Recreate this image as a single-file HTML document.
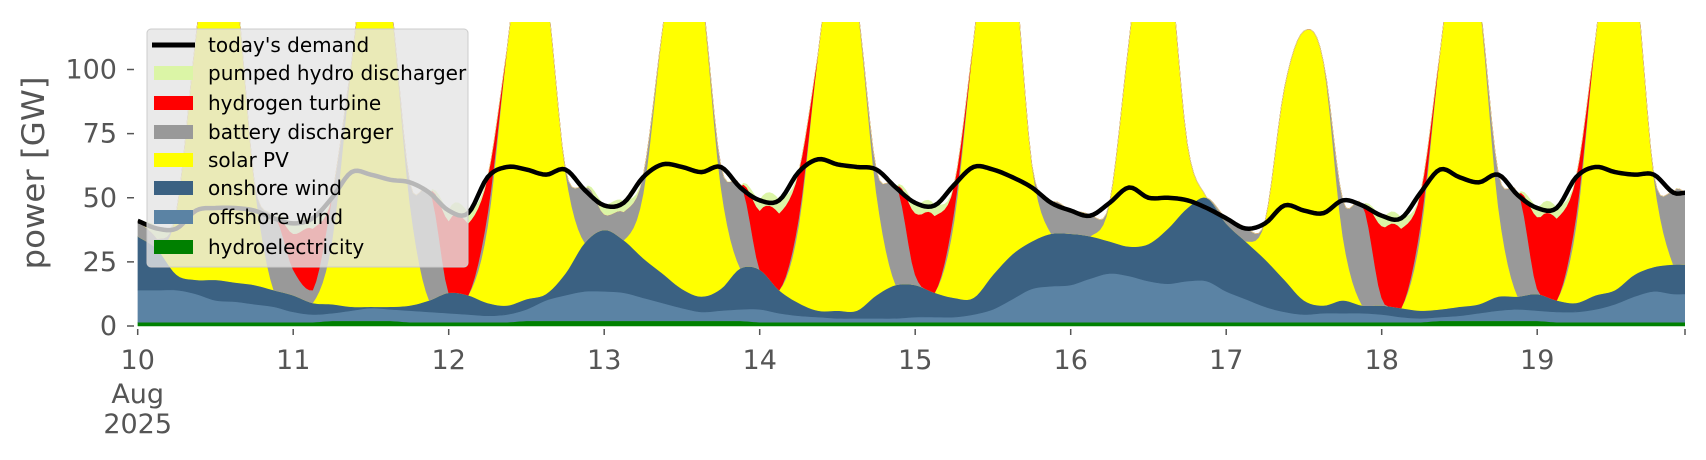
<!DOCTYPE html>
<html><head><meta charset="utf-8"><style>
html,body{margin:0;padding:0;background:#fff;}
svg{display:block;font-family:"DejaVu Sans","Liberation Sans",sans-serif;}
</style></head><body>
<svg id="chart" width="1706" height="460" viewBox="0 0 1706 460" xmlns="http://www.w3.org/2000/svg">
<defs><clipPath id="plotclip"><rect x="137.7" y="22" width="1547.3" height="305"/></clipPath></defs>
<g id="series" clip-path="url(#plotclip)"></g>
<g id="axes"></g>
<g id="legend"></g>
</svg>
<script>
// ---- data (3-hourly, 10–19 Aug 2025; 8 points per day: 00,03,...,21h) ----
const dayLabels = ["10","11","12","13","14","15","16","17","18","19"];
const yTicks = [0,25,50,75,100];
const hydro = [1.5,1.5,1.5,1.5,1.5,1.5,1.5,1.5, 1.5,1.5,2,2,2,2,1.5,1.5, 1.5,1.5,1.5,1.5,2,2,2,2, 2,2,2,2,2,2,2,2, 1.5,1.5,1.5,1.5,1.5,1.5,1.5,1.5, 1.5,1.5,1.5,1.5,1.5,1.5,1.5,1.5, 1.5,1.5,1.5,1.5,1.5,1.5,1.5,1.5, 1.5,1.5,1.5,1.5,1.5,1.5,1.5,1.5, 1.5,1.5,1.5,2,2,2,2,2, 2,1.5,1.5,1.5,1.5,1.5,1.5,1.5];
const offshore = [12.5,12.5,12.5,11,8.5,8,7,6, 4,3,3,4,5,4.5,4.5,4, 3.5,3,2.5,3,4.5,8,10,11.5, 11.5,11,9,7,5,3.5,4,4.5, 5,3.5,2.5,2,1.5,1.5,1.5,1.5, 2,2,2,3,5,9,13,14, 14.5,17,19,18,16,15,16,16, 12,9,6,4,3,3.5,3.5,3.5, 3,2,1.5,1.5,2,3,4,4.5, 4,4,4,5,7,10,12,11];
const onshore = [21,16,6,5.5,8,7.5,7.5,6.5, 6.5,4.5,3.5,1.5,0.5,1,2,4.5, 8,7.5,5,3.5,4,2.5,8.5,19, 24,20.5,15.5,11.5,7.5,6,8.5,16, 15.5,9,5,2.5,3,3,9,13, 12.5,9.5,7.5,6.5,13.5,17.5,18.5,20.5, 20,16.5,12.5,11.5,14.5,21.5,28.5,32.5, 26.5,22.5,18.5,12.5,5.5,3,5,3, 3.5,3.5,3,3,3.5,3.5,5.5,5, 6.5,4.5,3.5,5.5,5.5,8.5,9.5,11.5];
const solar = [0,0,25,95,150,120,40,0, 0,0,25,95,150,120,40,0, 0,0,30,100,150,120,40,0, 0,0,25,95,150,120,40,0, 0,0,30,100,150,120,40,0, 0,0,30,100,150,120,30,0, 0,0,15,80,140,110,25,0, 0,0,15,75,105,95,25,0, 0,0,30,100,150,120,35,0, 0,0,30,100,150,120,35,0];
const battery = [6,4,0,0,0,0,0,28, 10,5,17,0,0,0,8,42, 0,0,5,0,0,0,1,21, 6,11,7,0,0,0,8,32, 0,0,3,0,0,0,9,38, 4,0,4,0,0,0,0,12, 9,8,0,0,0,0,0,0, 2,5,0,0,0,0,14,39, 3,0,4,0,0,0,13,40, 2,0,4,0,0,0,1,28];
const hydrogen = [0,0,0,0,0,0,0,0, 14,24,0,0,0,0,0,0, 28,28,14,0,0,0,0,0, 0,0,0,0,0,0,0,0, 23,30,18,0,0,0,0,0, 24,30,10,0,0,0,0,0, 0,0,0,0,0,0,0,0, 0,0,0,0,0,0,0,0, 28,31,12,0,0,0,0,0, 28,32,15,0,0,0,0,0];
const pumped = [0,4,0,0,0,0,0,0, 4,4,0,0,0,0,0,0, 4,4,0,0,0,0,0,0, 4,4,0,0,0,0,0,0, 4,5,0,0,0,0,0,0, 4,4,0,0,0,0,0,0, 0,0,0,0,0,0,0,0, 0,0,0,0,0,0,0,0, 4,4,0,0,0,0,0,0, 4,4,0,0,0,0,0,0];
const demand = [41,38,38,45,46,46,45,42, 40,42,50,60,59,57,56,52, 45,44,58,62,61,59,61,53, 47,48,58,63,62,60,62,54, 49,49,60,65,63,62,61,54, 48,47,55,62,61,58,54,48, 45,43,48,54,50,50,49,46, 42,38,40,47,45,44,49,47, 43,42,52,61,58,56,59,51, 46,46,58,62,60,59,59,52];

const NS = "http://www.w3.org/2000/svg";
const X0 = 137.7, DAY = 155.5, Y0 = 326, PXG = 2.565, STEP = 3, TEND = 239;
function xs(h){ return X0 + h/24*DAY; }
function ys(v){ return Y0 - v*PXG; }
function mk(tag, attrs, parent){ const e=document.createElementNS(NS,tag); for(const k in attrs) e.setAttribute(k,attrs[k]); parent.appendChild(e); return e; }

// Catmull-Rom (linear in data, so stacks stay consistent with demand)
function interp(arr){
  const n=arr.length;
  const xsA=arr.map((_,i)=>i*STEP); xsA.push(TEND);
  const ysA=arr.slice(); ysA.push(arr[n-1]);
  const m=ysA.length, t=[];
  for(let i=0;i<m;i++){
    if(i===0) t.push((ysA[1]-ysA[0])/(xsA[1]-xsA[0]));
    else if(i===m-1) t.push((ysA[m-1]-ysA[m-2])/(xsA[m-1]-xsA[m-2]));
    else t.push((ysA[i+1]-ysA[i-1])/(xsA[i+1]-xsA[i-1]));
  }
  return function(x){
    let i=Math.min(Math.floor(x/STEP), m-2); const h=xsA[i+1]-xsA[i], u=(x-xsA[i])/h;
    const h00=2*u*u*u-3*u*u+1,h10=u*u*u-2*u*u+u,h01=-2*u*u*u+3*u*u,h11=u*u*u-u*u;
    return Math.max(0,h00*ysA[i]+h10*h*t[i]+h01*ysA[i+1]+h11*h*t[i+1]);
  };
}

const seriesG = document.getElementById('series');
const layers = [
  {name:'hydroelectricity-area', data:hydro, color:'#008000'},
  {name:'offshore-wind-area', data:offshore, color:'#5b83a4'},
  {name:'onshore-wind-area', data:onshore, color:'#3b6182'},
  {name:'solar-pv-area', data:solar, color:'#ffff00'},
  {name:'battery-discharger-area', data:battery, color:'#999999'},
  {name:'hydrogen-turbine-area', data:hydrogen, color:'#ff0000'},
  {name:'pumped-hydro-area', data:pumped, color:'#dbf5a6'}
];
const samples=[]; for(let h=0; h<=TEND; h+=0.5) samples.push(h);
let base = samples.map(()=>0);
layers.forEach(L=>{
  const f=interp(L.data);
  const top = samples.map((h,i)=>base[i]+f(h));
  let d='M'+samples.map((h,i)=>xs(h).toFixed(2)+','+ys(top[i]).toFixed(2)).join('L');
  for(let i=samples.length-1;i>=0;i--) d+='L'+xs(samples[i]).toFixed(2)+','+ys(base[i]).toFixed(2);
  d+='Z';
  const p=mk('path',{d:d,fill:L.color,stroke:L.color,'stroke-width':'0.6'},seriesG);
  
  
  base=top;
});
// demand line
{
  const f=interp(demand);
  const d='M'+samples.map(h=>xs(h).toFixed(2)+','+ys(f(h)).toFixed(2)).join('L');
  const p=mk('path',{d:d,fill:'none',stroke:'#000','stroke-width':'4.5','stroke-linejoin':'round'},seriesG);
  
  
}

// axes
const ax=document.getElementById('axes');
yTicks.forEach(v=>{
  const t=mk('line',{x1:127,x2:134,y1:ys(v),y2:ys(v),stroke:'#555','stroke-width':1.5},ax);
  
  
  const l=mk('text',{x:117,y:ys(v)+9,'text-anchor':'end','font-size':27,fill:'#555'},ax);
  l.textContent=String(v);
  
  
});
dayLabels.forEach((lab,i)=>{
  const x=xs(i*24);
  const t=mk('line',{x1:x,x2:x,y1:329,y2:335,stroke:'#555','stroke-width':1.5},ax);
  
  
  const l=mk('text',{x:x,y:369,'text-anchor':'middle','font-size':27,fill:'#555'},ax);
  l.textContent=lab;
  
  
});
{
  const t=mk('line',{x1:1685,x2:1685,y1:329,y2:335,stroke:'#555','stroke-width':1.5},ax);
  
  
  const a=mk('text',{x:xs(0),y:403,'text-anchor':'middle','font-size':27,fill:'#555'},ax);
  a.textContent='Aug';
  
  
  const b=mk('text',{x:xs(0),y:433,'text-anchor':'middle','font-size':27,fill:'#555'},ax);
  b.textContent='2025';
  
  
  const yl=mk('text',{x:0,y:0,'text-anchor':'middle','font-size':31,fill:'#555',transform:'translate(44,173) rotate(-90)',textLength:193,lengthAdjust:'spacingAndGlyphs'},ax);
  yl.textContent='power [GW]';
  
  
}

// legend
const lg=document.getElementById('legend');
{
  const r=mk('rect',{x:147,y:29,width:321,height:238,rx:4,fill:'#e5e5e5','fill-opacity':0.8,stroke:'#cccccc','stroke-width':1},lg);
  
  
}
const legendItems=[
  ["today's demand",'line','#000'],
  ['pumped hydro discharger','box','#dbf5a6'],
  ['hydrogen turbine','box','#ff0000'],
  ['battery discharger','box','#999999'],
  ['solar PV','box','#ffff00'],
  ['onshore wind','box','#3b6182'],
  ['offshore wind','box','#5b83a4'],
  ['hydroelectricity','box','#008000']
];
const rowY=[45,73,103,132,160,188,217,247];
legendItems.forEach((it,i)=>{
  const cy=rowY[i];
  const g=mk('g',{},lg);
  
  
  if(it[1]==='line') mk('line',{x1:152,x2:195,y1:cy,y2:cy,stroke:it[2],'stroke-width':5},g);
  else mk('rect',{x:154,y:cy-7,width:39,height:14,fill:it[2]},g);
  const t=mk('text',{x:208,y:cy+7,'font-size':20,fill:'#000'},g);
  t.textContent=it[0];
});
</script>
</body></html>
